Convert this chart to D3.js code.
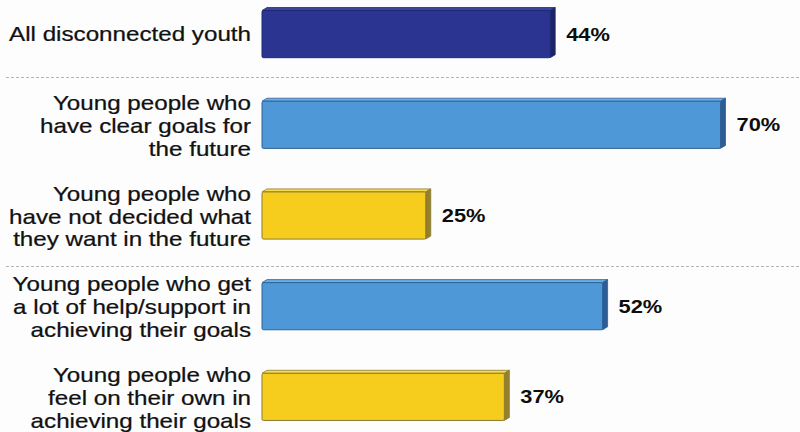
<!DOCTYPE html>
<html>
<head>
<meta charset="utf-8">
<script src="https://cdn.jsdelivr.net/npm/d3@7"></script>
<style>
  html, body { margin: 0; padding: 0; background: #fdfdfd; }
  svg { display: block; }
</style>
</head>
<body>
<svg id="chart" width="800" height="432"></svg>
<script>
// Share of youth in each group (percent)
const categories = [
  "All disconnected youth",
  "Young people who|have clear goals for|the future",
  "Young people who|have not decided what|they want in the future",
  "Young people who get|a lot of help/support in|achieving their goals",
  "Young people who|feel on their own in|achieving their goals"
];
const values = [44, 70, 25, 52, 37];
const groups = ["all", "blue", "yellow", "blue", "yellow"];
// Dashed dividers sit after these rows
const dividerAfter = [0, 2];

const palette = {
  all:    { front: "#2b3591", top: "#3a45a2", side: "#1c2468", edge: "#1f2870" },
  blue:   { front: "#4f98d8", top: "#6aaee4", side: "#2c5d94", edge: "#2f6198" },
  yellow: { front: "#f6cd1d", top: "#f9da4e", side: "#958128", edge: "#8a7a32" }
};

const W = 800, H = 432;
const svg = d3.select("#chart");

const x = d3.scaleLinear().domain([0, 100]).range([262, 917]);
const y = d3.scaleBand().domain(categories).range([-33, 464]).paddingInner(0.48).paddingOuter(0.48);

const dx = 5, dy = 3;   // depth of the 3D bars
const sx = 1.18;        // horizontal stretch of the type

// Dividers
dividerAfter.forEach(i => {
  const yb = y(categories[i]) + y.bandwidth();
  const yn = y(categories[i + 1]);
  const yy = Math.round(yb + (yn - yb) * (i === 0 ? 0.45 : 0.62)) + 0.5;
  svg.append("line")
    .attr("x1", 6).attr("x2", W)
    .attr("y1", yy).attr("y2", yy)
    .attr("stroke", "#b4b4b4")
    .attr("stroke-width", 1)
    .attr("stroke-dasharray", "3,2");
});

const rows = svg.selectAll("g.row")
  .data(categories.map((c, i) => ({ c, v: values[i], g: groups[i] })))
  .join("g").attr("class", "row");

// Top face
rows.append("path")
  .attr("d", d => {
    const x0 = x(0), x1 = x(d.v), y0 = y(d.c);
    return `M${x0},${y0}L${x0 + dx},${y0 - dy}L${x1 + dx},${y0 - dy}L${x1},${y0}Z`;
  })
  .attr("fill", d => palette[d.g].top)
  .attr("stroke", d => palette[d.g].edge)
  .attr("stroke-width", 0.8);

// Side face
rows.append("path")
  .attr("d", d => {
    const x1 = x(d.v), y0 = y(d.c), y1 = y0 + y.bandwidth();
    return `M${x1},${y0}L${x1 + dx},${y0 - dy}L${x1 + dx},${y1 - dy}L${x1},${y1}Z`;
  })
  .attr("fill", d => palette[d.g].side)
  .attr("stroke", d => palette[d.g].edge)
  .attr("stroke-width", 0.8);

// Front face
rows.append("rect")
  .attr("x", x(0))
  .attr("y", d => y(d.c))
  .attr("width", d => x(d.v) - x(0))
  .attr("height", y.bandwidth())
  .attr("rx", 1.5)
  .attr("fill", d => palette[d.g].front)
  .attr("stroke", d => palette[d.g].edge)
  .attr("stroke-width", 1);

// Category labels
rows.each(function(d) {
  const lines = d.c.split("|");
  const cy = y(d.c) + y.bandwidth() / 2;
  const g = d3.select(this).append("g")
    .attr("transform", `translate(251,${cy}) scale(${sx},1)`);
  const base = lines.length === 1 ? 7 : 8;
  lines.forEach((t, i) => {
    g.append("text")
      .attr("x", 0)
      .attr("y", base + (i - (lines.length - 1) / 2) * 23)
      .attr("text-anchor", "end")
      .attr("font-family", "'Liberation Sans', Arial, sans-serif")
      .attr("font-size", 20.5)
      .attr("fill", "#111")
      .attr("stroke", "#111")
      .attr("stroke-width", 0.25)
      .text(t);
  });
});

// Value labels
rows.append("text")
  .attr("transform", d => `translate(${x(d.v) + 16},${y(d.c) + y.bandwidth() / 2 + 6.5}) scale(${sx},1)`)
  .attr("font-family", "'Liberation Sans', Arial, sans-serif")
  .attr("font-size", 18.5)
  .attr("font-weight", "bold")
  .attr("fill", "#0d0d0d")
  .text(d => d.v + "%");
</script>
</body>
</html>
